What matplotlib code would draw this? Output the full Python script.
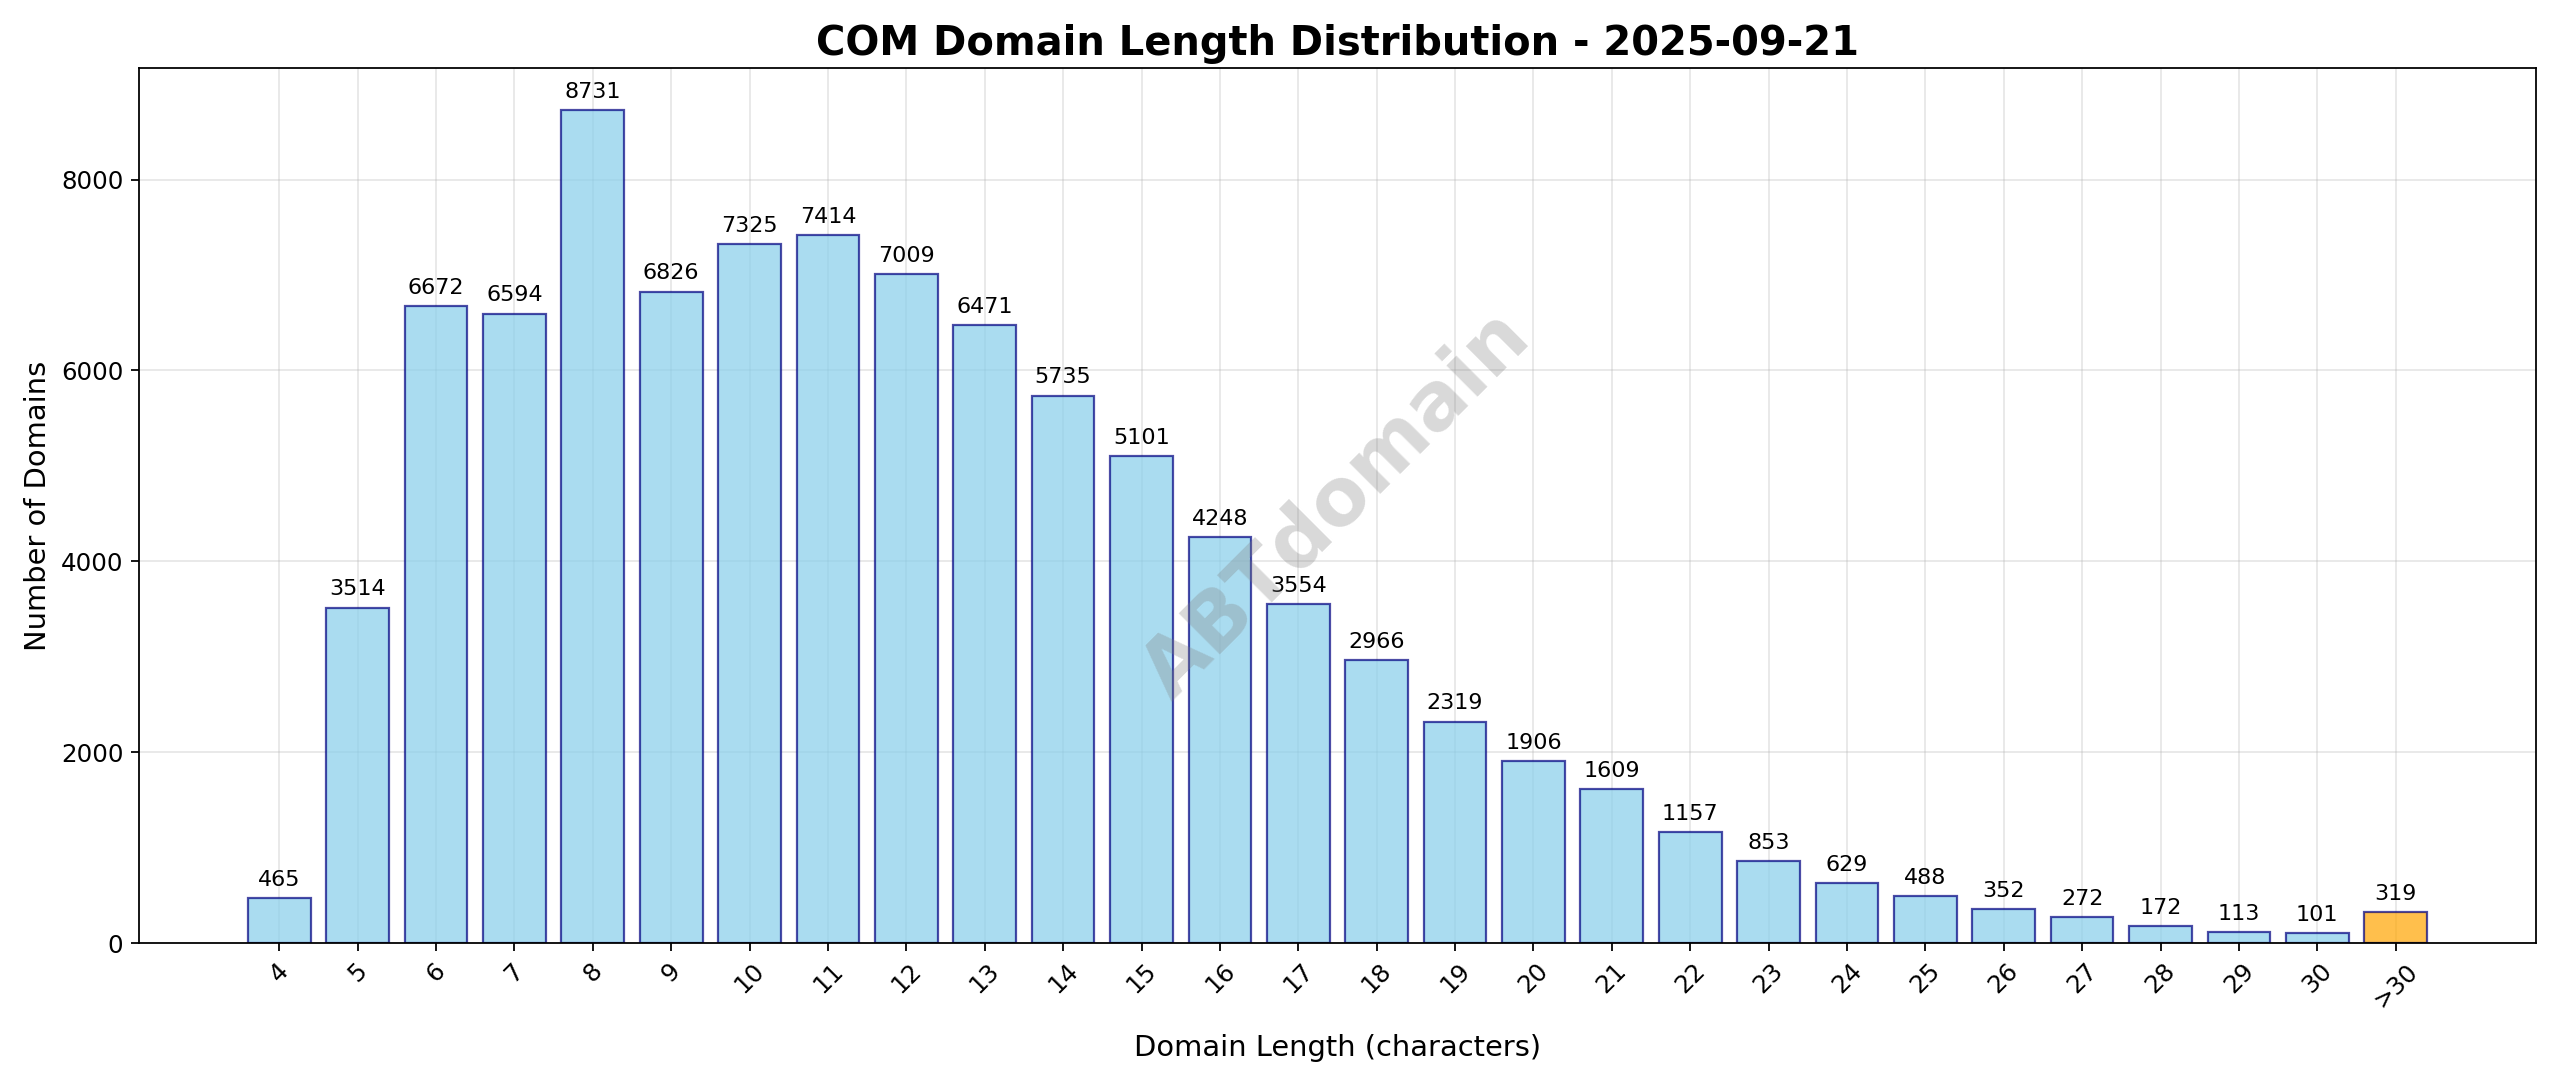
import matplotlib
matplotlib.use("Agg")
import matplotlib.pyplot as plt
import numpy as np

labels = [str(i) for i in range(4, 31)] + ['>30']
counts = [465, 3514, 6672, 6594, 8731, 6826, 7325, 7414, 7009, 6471, 5735, 5101,
          4248, 3554, 2966, 2319, 1906, 1609, 1157, 853, 629, 488, 352, 272, 172,
          113, 101, 319]

fig, ax = plt.subplots(figsize=(16, 6.79), dpi=160)
x = np.arange(len(labels))
colors = ['skyblue'] * (len(labels) - 1) + ['orange']
bars = ax.bar(x, counts, color=colors, alpha=0.7, edgecolor='navy', linewidth=1)
for b, v in zip(bars, counts):
    ax.text(b.get_x() + b.get_width() / 2, v + 90, str(v), ha='center', va='bottom', fontsize=10)

ax.set_xticks(x)
ax.set_xticklabels(labels, rotation=45)
ax.tick_params(labelsize=11)
ax.set_ylim(0, 9170)
ax.set_xlabel('Domain Length (characters)', fontsize=13, labelpad=10)
ax.set_ylabel('Number of Domains', fontsize=13)
ax.set_title('COM Domain Length Distribution - 2025-09-21', fontsize=18, fontweight='bold')
ax.grid(True, alpha=0.3)
ax.set_axisbelow(True)
ax.text(0.5, 0.5, 'ABTdomain', transform=ax.transAxes, fontsize=36, color='gray',
        alpha=0.3, rotation=45, ha='center', va='center', fontweight='bold')
plt.tight_layout()
plt.savefig('out.png', dpi=160)
